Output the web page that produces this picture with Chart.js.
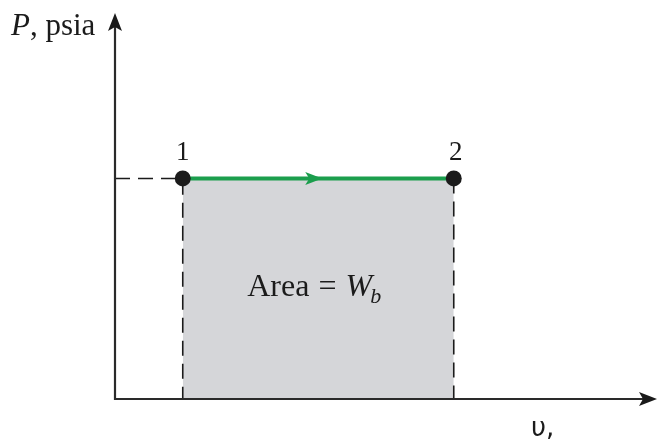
<!DOCTYPE html>
<html>
<head>
<meta charset="utf-8">
<script src="https://cdn.jsdelivr.net/npm/chart.js@4/dist/chart.umd.min.js"></script>
<style>
  html, body { margin: 0; padding: 0; background: #ffffff; overflow: hidden; }
  canvas { display: block; }
</style>
</head>
<body>
<canvas id="pv" width="657" height="441"></canvas>
<script>
// Constant-pressure expansion from state 1 to state 2 on a P-v diagram
const stateNames = ['1', '2'];
const specificVolume = [1, 5];   // v at states 1 and 2
const pressure = [4, 4];         // P at states 1 and 2 (constant)
const axisMax = [8, 7];          // extent of the v and P axes
const axisTitles = ['P, psia', 'υ,'];
const areaLabel = ['Area', '=', 'W', 'b'];

const statePoints = specificVolume.map((v, i) => ({ x: v, y: pressure[i] }));

const INK = '#1b1b1b';
const GREEN = '#1b9e4d';
const GREY = '#d5d6d9';
const SERIF = '"Liberation Serif", serif';

// axes with arrowheads, the process arrow and all text
const diagramPlugin = {
  id: 'diagram',
  afterDatasetsDraw(chart) {
    const { ctx, scales: { x, y }, chartArea } = chart;
    const x0 = x.getPixelForValue(0);
    const y0 = y.getPixelForValue(0);
    ctx.save();

    // axes
    ctx.strokeStyle = '#2a2a2a';
    ctx.fillStyle = '#1a1a1a';
    ctx.lineWidth = 2.2;
    ctx.beginPath();
    ctx.moveTo(x0, y0 + 1);
    ctx.lineTo(x0, chartArea.top + 10);
    ctx.moveTo(x0 - 1, y0);
    ctx.lineTo(chartArea.right - 10, y0);
    ctx.stroke();
    // y arrowhead
    ctx.beginPath();
    ctx.moveTo(x0, chartArea.top);
    ctx.lineTo(x0 - 7, chartArea.top + 18);
    ctx.lineTo(x0, chartArea.top + 14);
    ctx.lineTo(x0 + 7, chartArea.top + 18);
    ctx.closePath();
    ctx.fill();
    // x arrowhead
    ctx.beginPath();
    ctx.moveTo(chartArea.right, y0);
    ctx.lineTo(chartArea.right - 18, y0 - 7);
    ctx.lineTo(chartArea.right - 14, y0);
    ctx.lineTo(chartArea.right - 18, y0 + 7);
    ctx.closePath();
    ctx.fill();

    // direction arrow at the middle of the process line
    const midV = (specificVolume[0] + specificVolume[1]) / 2;
    const mx = x.getPixelForValue(midV);
    const my = y.getPixelForValue((pressure[0] + pressure[1]) / 2);
    ctx.fillStyle = GREEN;
    ctx.beginPath();
    ctx.moveTo(mx + 4, my);
    ctx.lineTo(mx - 13, my - 6.5);
    ctx.lineTo(mx - 9, my);
    ctx.lineTo(mx - 13, my + 6.5);
    ctx.closePath();
    ctx.fill();

    // state labels
    ctx.fillStyle = INK;
    ctx.font = '27px ' + SERIF;
    ctx.textAlign = 'center';
    ctx.textBaseline = 'alphabetic';
    statePoints.forEach((p, i) => {
      ctx.fillText(stateNames[i], x.getPixelForValue(p.x) + (i === 1 ? 2 : 0), y.getPixelForValue(p.y) - 18);
    });

    // area label, "Area = W_b" with math spacing round the equals sign
    const areaBase = y.getPixelForValue(pressure[0] / 2) + 7;
    let tx = mx - 71;
    ctx.textAlign = 'left';
    ctx.font = '32px ' + SERIF;
    ctx.fillText(areaLabel[0], tx, areaBase);
    tx += ctx.measureText(areaLabel[0]).width + 9;
    ctx.fillText(areaLabel[1], tx, areaBase);
    tx += ctx.measureText(areaLabel[1]).width + 9;
    ctx.font = 'italic 32px ' + SERIF;
    ctx.fillText(areaLabel[2], tx, areaBase);
    tx += ctx.measureText(areaLabel[2]).width - 2;
    ctx.font = 'italic 22px ' + SERIF;
    ctx.fillText(areaLabel[3], tx, areaBase + 7);

    // axis titles
    const [pPart, rest] = [axisTitles[0].slice(0, 1), axisTitles[0].slice(1)];
    ctx.font = 'italic 31px ' + SERIF;
    ctx.fillText(pPart, 11, 35);
    const pw = ctx.measureText(pPart).width;
    ctx.font = '31px ' + SERIF;
    ctx.fillText(rest, 11 + pw, 35);

    ctx.font = '26px "DejaVu Sans", sans-serif';
    ctx.fillText(axisTitles[1], 531, 436);

    ctx.restore();
  }
};

new Chart(document.getElementById('pv'), {
  type: 'scatter',
  data: {
    datasets: [
      {
        // state points
        data: statePoints,
        pointRadius: 8,
        pointHoverRadius: 8,
        pointBackgroundColor: INK,
        pointBorderWidth: 0,
        showLine: false
      },
      {
        // process line 1 -> 2
        type: 'line',
        data: statePoints,
        borderColor: GREEN,
        borderWidth: 4,
        pointRadius: 0,
        fill: false
      },
      {
        // projection from state 1 to both axes
        type: 'line',
        data: [{ x: 0, y: pressure[0] }, statePoints[0], { x: specificVolume[0], y: 0 }],
        borderColor: INK,
        borderWidth: 1.6,
        borderDash: [15, 8],
        pointRadius: 0,
        fill: false
      },
      {
        // projection from state 2 to the v axis
        type: 'line',
        data: [statePoints[1], { x: specificVolume[1], y: 0 }],
        borderColor: INK,
        borderWidth: 1.6,
        borderDash: [15, 8],
        pointRadius: 0,
        fill: false
      },
      {
        // boundary work: area under the process line
        type: 'line',
        data: statePoints,
        borderWidth: 0,
        borderColor: 'rgba(0,0,0,0)',
        backgroundColor: GREY,
        pointRadius: 0,
        fill: 'origin'
      }
    ]
  },
  options: {
    responsive: false,
    animation: false,
    layout: { autoPadding: false, padding: { left: 115, right: 0, top: 13, bottom: 42 } },
    plugins: { legend: { display: false }, tooltip: { enabled: false } },
    scales: {
      x: { type: 'linear', min: 0, max: axisMax[0], display: false },
      y: { type: 'linear', min: 0, max: axisMax[1], display: false }
    }
  },
  plugins: [diagramPlugin]
});
</script>
</body>
</html>
